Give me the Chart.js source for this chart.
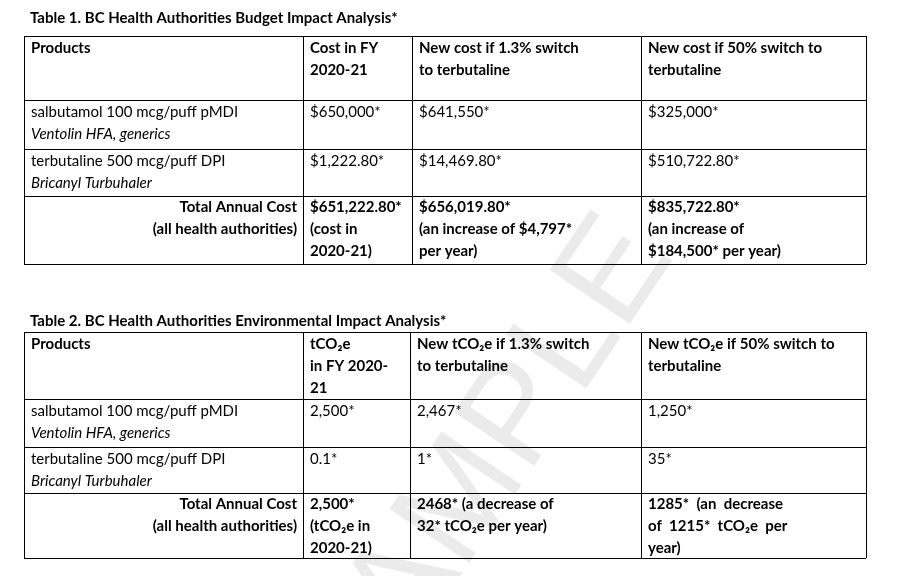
<!DOCTYPE html>
<html><head><meta charset="utf-8">
<script src="https://cdn.jsdelivr.net/npm/chart.js@4"></script>
<style>body{margin:0;background:#fff}#wrap{width:897px;height:576px}</style>
</head><body><div id="wrap"><canvas id="c"></canvas></div>
<script>
// --- table content ---
const title1 = 'Table 1. BC Health Authorities Budget Impact Analysis*';
const head1 = [['Products'], ['Cost in FY', '2020-21'], ['New cost if 1.3% switch', 'to terbutaline'], ['New cost if 50% switch to', 'terbutaline']];
const rows1 = [
  [['salbutamol 100 mcg/puff pMDI', '*Ventolin HFA, generics'], ['$650,000*'], ['$641,550*'], ['$325,000*']],
  [['terbutaline 500 mcg/puff DPI', '*Bricanyl Turbuhaler'], ['$1,222.80*'], ['$14,469.80*'], ['$510,722.80*']]
];
const total1 = [['Total Annual Cost', '(all health authorities)'], ['$651,222.80*', '(cost in', '2020-21)'], ['$656,019.80*', '(an increase of $4,797*', 'per year)'], ['$835,722.80*', '(an increase of', '$184,500* per year)']];

const title2 = 'Table 2. BC Health Authorities Environmental Impact Analysis*';
const head2 = [['Products'], ['tCO₂e', 'in FY 2020-', '21'], ['New tCO₂e if 1.3% switch', 'to terbutaline'], ['New tCO₂e if 50% switch to', 'terbutaline']];
const rows2 = [
  [['salbutamol 100 mcg/puff pMDI', '*Ventolin HFA, generics'], ['2,500*'], ['2,467*'], ['1,250*']],
  [['terbutaline 500 mcg/puff DPI', '*Bricanyl Turbuhaler'], ['0.1*'], ['1*'], ['35*']]
];
const total2 = [['Total Annual Cost', '(all health authorities)'], ['2,500*', '(tCO₂e in', '2020-21)'], ['2468* (a decrease of', '32* tCO₂e per year)'], ['1285*  (an  decrease', 'of  1215*  tCO₂e  per', 'year)']];

// --- layout (page units) ---
const cols1 = [24, 303, 412, 641, 866];
const cols2 = [24, 303, 410, 641, 866];
const lines1 = [36, 100, 149, 196, 264];
const lines2 = [332, 399, 447, 493, 558];
const LH = 22;

const tablePlugin = {
  id: 'tables',
  afterDraw(chart) {
    const c = chart.ctx, X = v => chart.scales.x.getPixelForValue(v), Y = v => chart.scales.y.getPixelForValue(v);
    c.save();
    // watermark
    c.save();
    c.translate(X(485), Y(470)); c.rotate(-0.98);
    c.fillStyle = 'rgba(205,205,205,0.4)'; c.font = '140px "Liberation Sans", Arial';
    c.textAlign = 'center'; c.textBaseline = 'middle'; c.fillText('SAMPLE', 0, 0);
    c.restore();
    c.textBaseline = 'middle'; c.fillStyle = '#000';
    const cell = (lines, x, y, bold, align) => {
      lines.forEach((t, i) => {
        const it = t.startsWith('*');
        c.font = (it ? 'italic ' : '') + (bold ? 'bold ' : '') + '15px Lato, "Open Sans", sans-serif';
        c.textAlign = align || 'left';
        c.fillText(it ? t.slice(1) : t, X(x), Y(y + i * LH));
      });
    };
    const table = (title, ty, head, rows, total, cols, lines) => {
      cell([title], 30, ty, true);
      c.strokeStyle = '#000'; c.lineWidth = 1;
      lines.forEach(ly => {
        c.beginPath(); c.moveTo(X(cols[0]), Y(ly) + 0.5); c.lineTo(X(cols[4]), Y(ly) + 0.5); c.stroke();
      });
      cols.forEach(cx => {
        c.beginPath(); c.moveTo(X(cx) + 0.5, Y(lines[0])); c.lineTo(X(cx) + 0.5, Y(lines[lines.length - 1])); c.stroke();
      });
      head.forEach((h, j) => cell(h, cols[j] + 7, lines[0] + 12, true));
      rows.forEach((r, i) => r.forEach((v, j) => cell(v, cols[j] + 7, lines[i + 1] + 12, false)));
      const tr = lines[lines.length - 2] + 11;
      cell(total[0], cols[1] - 6, tr, true, 'right');
      for (let j = 1; j < 4; j++) cell(total[j], cols[j] + 7, tr, true);
    };
    table(title1, 18, head1, rows1, total1, cols1, lines1);
    table(title2, 321, head2, rows2, total2, cols2, lines2);
    c.restore();
  }
};

new Chart(document.getElementById('c'), {
  type: 'scatter',
  data: { datasets: [] },
  options: {
    responsive: true, maintainAspectRatio: false, animation: false,
    layout: { padding: 0 },
    plugins: { legend: { display: false }, tooltip: { enabled: false } },
    scales: {
      x: { type: 'linear', min: 0, max: 897, display: false },
      y: { type: 'linear', min: 0, max: 576, reverse: true, display: false }
    }
  },
  plugins: [tablePlugin]
});
</script></body></html>
